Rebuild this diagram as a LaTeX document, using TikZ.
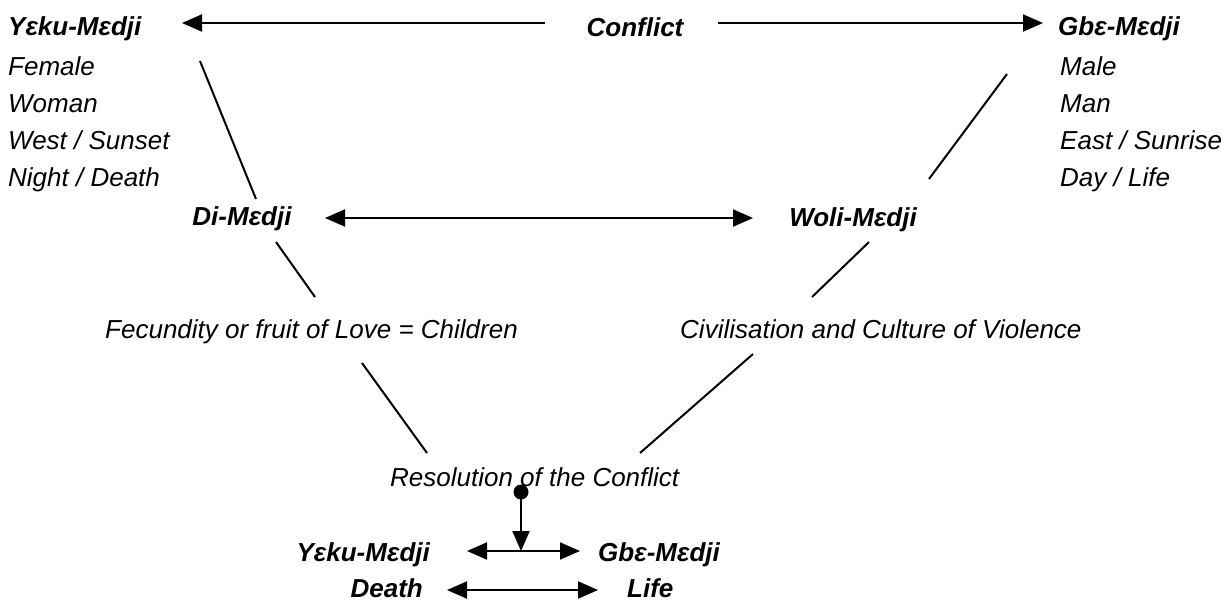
\documentclass[tikz,border=0pt]{standalone}
\usepackage{fontspec}
\setmainfont{Liberation Sans}
\usetikzlibrary{arrows.meta}
\begin{document}
\begin{tikzpicture}[x=1pt,y=-1pt,
  txt/.style={inner sep=0pt, font=\fontsize{26}{30}\selectfont\itshape},
  hd/.style={inner sep=0pt, font=\fontsize{26}{30}\selectfont\bfseries\itshape},
  ln/.style={line width=2pt},
  arr/.style={line width=2pt, -{Triangle[length=20pt,width=17pt]}},
  darr/.style={line width=2pt, {Triangle[length=20pt,width=17pt]}-{Triangle[length=20pt,width=17pt]}}]
\useasboundingbox (0,0) rectangle (1231,603);
% left column
\node[hd, anchor=base west] (yk) at (8,35) {Yɛku-Mɛdji};
\node[txt, anchor=base west] (fe) at (8,75) {Female};
\node[txt, anchor=base west] (wo) at (8,112) {Woman};
\node[txt, anchor=base west] (we) at (8,149) {West / Sunset};
\node[txt, anchor=base west] (ni) at (8,186) {Night / Death};
% right column
\node[hd, anchor=base west] (gb) at (1058,35) {Gbɛ-Mɛdji};
\node[txt, anchor=base west] (ma) at (1060,75) {Male};
\node[txt, anchor=base west] (mn) at (1060,112) {Man};
\node[txt, anchor=base west] (ea) at (1060,149) {East / Sunrise};
\node[txt, anchor=base west] (da) at (1060,186) {Day / Life};
% conflict
\node[hd, anchor=base] (cf) at (635,36) {Conflict};
\coordinate (cL) at (545,23);
\coordinate (cLt) at (182,23);
\coordinate (cR) at (718,23);
\coordinate (cRt) at (1043,23);
\draw[arr] (cL) -- (cLt);
\draw[arr] (cR) -- (cRt);
% middle
\node[hd, anchor=base] (di) at (242,225) {Di-Mɛdji};
\node[hd, anchor=base] (wl) at (853,226) {Woli-Mɛdji};
\coordinate (dA) at (325,218);
\coordinate (wA) at (753,218);
\draw[darr] (dA) -- (wA);
\node[txt, anchor=base east] (fc) at (518,338) {Fecundity or fruit of Love = Children};
\node[txt, anchor=base west] (cv) at (680,338) {Civilisation and Culture of Violence};
\node[txt, anchor=base west] (rs) at (390,486) {Resolution of the Conflict};
% lines
\coordinate (l1a) at (200,61);  \coordinate (l1b) at (256,199);
\coordinate (l2a) at (276,242); \coordinate (l2b) at (315,297);
\coordinate (l3a) at (362,363); \coordinate (l3b) at (427,453);
\coordinate (r1a) at (1007,74); \coordinate (r1b) at (929,179);
\coordinate (r2a) at (869,242); \coordinate (r2b) at (812,297);
\coordinate (r3a) at (753,354); \coordinate (r3b) at (640,453);
\draw[ln] (l1a) -- (l1b);
\draw[ln] (l2a) -- (l2b);
\draw[ln] (l3a) -- (l3b);
\draw[ln] (r1a) -- (r1b);
\draw[ln] (r2a) -- (r2b);
\draw[ln] (r3a) -- (r3b);
% resolution
\node[circle, fill=black, inner sep=0pt, minimum size=15pt] (dot) at (521,492) {};
\coordinate (dt) at (521,551);
\draw[arr] (dot.center) -- (dt);
% bottom
\node[hd, anchor=base east] (yk2) at (430,561) {Yɛku-Mɛdji};
\node[hd, anchor=base west] (gb2) at (598,561) {Gbɛ-Mɛdji};
\node[hd, anchor=base east] (de) at (423,597) {Death};
\node[hd, anchor=base west] (li) at (627,597) {Life};
\coordinate (b1a) at (467,551); \coordinate (b1b) at (580,551);
\coordinate (b2a) at (447,590); \coordinate (b2b) at (598,590);
\draw[darr] (b1a) -- (b1b);
\draw[darr] (b2a) -- (b2b);
\end{tikzpicture}
\end{document}
